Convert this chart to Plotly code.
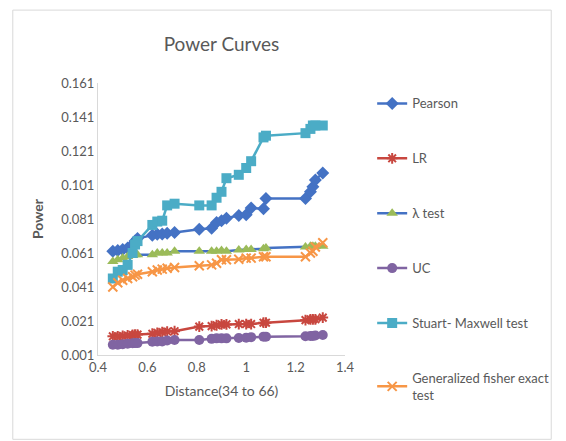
import plotly.graph_objects as go

distance = [0.46, 0.48, 0.50, 0.52, 0.54, 0.55, 0.56, 0.62, 0.64, 0.66, 0.68, 0.71,
            0.81, 0.86, 0.88, 0.90, 0.92, 0.97, 1.00, 1.02, 1.07, 1.08, 1.24, 1.26,
            1.27, 1.28, 1.31]

pearson = [0.062, 0.0625, 0.063, 0.064, 0.066, 0.068, 0.0695, 0.0715, 0.072, 0.0722,
           0.0726, 0.073, 0.075, 0.0755, 0.079, 0.080, 0.0815, 0.083, 0.0835, 0.0875,
           0.087, 0.093, 0.093, 0.097, 0.100, 0.104, 0.108]

lr = [0.012, 0.012, 0.0122, 0.0125, 0.0128, 0.013, 0.013, 0.0135, 0.014, 0.0145,
      0.0148, 0.015, 0.0177, 0.018, 0.0185, 0.019, 0.019, 0.0192, 0.0192, 0.0192,
      0.020, 0.020, 0.0215, 0.022, 0.022, 0.022, 0.023]

lambda_test = [0.056, 0.057, 0.058, 0.059, 0.0595, 0.060, 0.060, 0.060, 0.061, 0.061,
               0.061, 0.062, 0.062, 0.062, 0.062, 0.0625, 0.062, 0.0628, 0.063, 0.063,
               0.0635, 0.064, 0.0645, 0.065, 0.065, 0.065, 0.065]

uc = [0.007, 0.007, 0.0073, 0.0076, 0.0079, 0.008, 0.008, 0.0088, 0.009, 0.009,
      0.0095, 0.0098, 0.0098, 0.0105, 0.0108, 0.0108, 0.0108, 0.011, 0.0112, 0.0115,
      0.0118, 0.0118, 0.012, 0.0122, 0.0122, 0.0125, 0.0128]

stuart = [0.046, 0.050, 0.051, 0.054, 0.061, 0.066, 0.068, 0.0775, 0.0795, 0.080,
          0.089, 0.090, 0.089, 0.089, 0.0935, 0.097, 0.105, 0.107, 0.111, 0.115,
          0.129, 0.130, 0.1315, 0.134, 0.136, 0.136, 0.136]

gfisher = [0.041, 0.0435, 0.045, 0.046, 0.047, 0.048, 0.0485, 0.050, 0.051, 0.0515,
           0.052, 0.0525, 0.0535, 0.054, 0.055, 0.057, 0.057, 0.0573, 0.058, 0.058,
           0.0588, 0.0588, 0.0588, 0.061, 0.062, 0.0645, 0.067]

y_ticks = [0.001, 0.021, 0.041, 0.061, 0.081, 0.101, 0.121, 0.141, 0.161]
x_ticks = [0.4, 0.6, 0.8, 1.0, 1.2, 1.4]
x_tick_labels = ["0.4", "0.6", "0.8", "1", "1.2", "1.4"]

FONT = "Lato"
GREY = "#595959"

series = [
    ("Pearson", pearson, "#4472C4", "#4472C4", "diamond", 10, None),
    ("LR", lr, "#C8473F", "#C8473F", "asterisk-open", 9, 2),
    ("λ test", lambda_test, "#4472C4", "#9BBB59", "triangle-up", 10, None),
    ("UC", uc, "#8064A2", "#8064A2", "circle", 10, None),
    ("Stuart- Maxwell test", stuart, "#4BACC6", "#4BACC6", "square", 10, None),
    ("Generalized fisher exact<br>test", gfisher, "#F79646", "#F79646", "x-thin-open", 9, 2),
]

fig = go.Figure()
for i, (name, ys, lc, mc, sym, ms, lw) in enumerate(series):
    marker = dict(symbol=sym, size=ms, color=mc)
    if lw:
        marker["line"] = dict(color=mc, width=lw)
    else:
        marker["line"] = dict(width=0)
    fig.add_trace(go.Scatter(
        x=distance, y=ys, name=name, mode="lines+markers",
        line=dict(color=lc, width=2.5), marker=marker,
        legendgroup=f"g{i}",
    ))

fig.update_layout(
    width=566, height=441,
    margin=dict(l=98, r=219, t=83, b=86),
    paper_bgcolor="white", plot_bgcolor="white",
    font=dict(family=FONT, color=GREY, size=13),
    title=dict(text="Power Curves", x=0.5, xref="paper", xanchor="center",
               y=0.9, yref="container", yanchor="middle",
               font=dict(size=19, color=GREY, family=FONT)),
    showlegend=True,
    legend=dict(x=1.11, y=0.98, xanchor="left", yanchor="top",
                tracegroupgap=35, font=dict(size=13, color=GREY, family=FONT),
                itemwidth=30, bgcolor="rgba(0,0,0,0)", maxheight=441),
    xaxis=dict(range=[0.4, 1.4], tickvals=x_ticks, ticktext=x_tick_labels,
               showgrid=False, zeroline=False, showline=True, linecolor="#d9d9d9",
               linewidth=1, ticks="", tickfont=dict(size=13, color=GREY),
               title=dict(text="Distance(34 to 66)", font=dict(size=14, color=GREY),
                          standoff=12)),
    yaxis=dict(range=[0.001, 0.161], tickvals=y_ticks,
               ticktext=[f"{v:.3f}" for v in y_ticks],
               showgrid=False, zeroline=False, showline=True, linecolor="#d9d9d9",
               linewidth=1, ticks="", tickfont=dict(size=13, color=GREY),
               title=dict(text="<b>Power</b>", font=dict(size=14, color=GREY),
                          standoff=14)),
    shapes=[dict(type="rect", xref="paper", yref="paper",
                 x0=-0.345, x1=1.835, y0=-0.31, y1=1.268,
                 line=dict(color="#d9d9d9", width=1), fillcolor="rgba(0,0,0,0)",
                 layer="below")],
)

fig.write_html("out.html")
